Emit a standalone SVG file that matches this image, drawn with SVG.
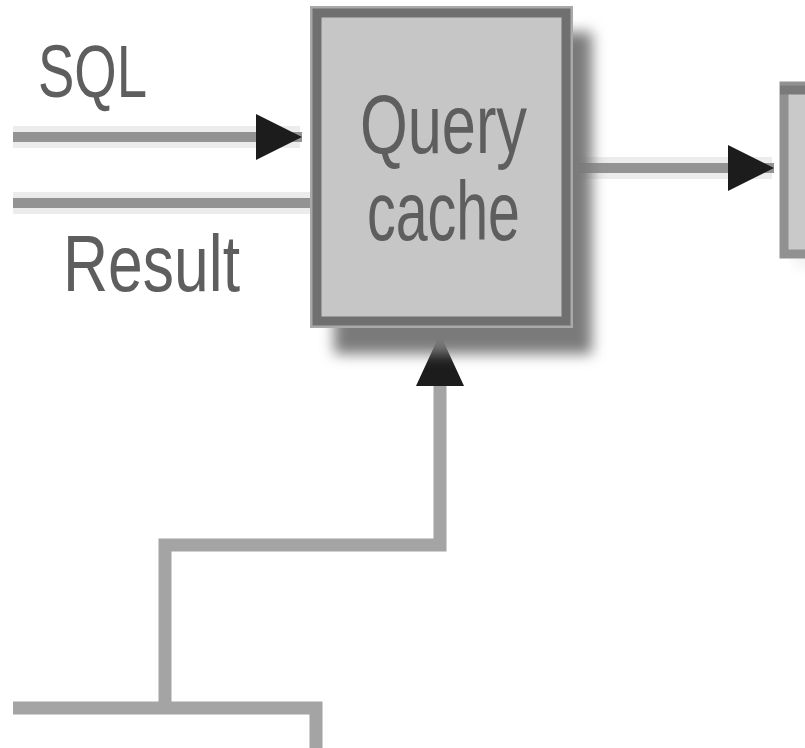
<svg xmlns="http://www.w3.org/2000/svg" width="805" height="748" viewBox="0 0 805 748">
  <defs>
    <style>
      .lbl { font-family: "Liberation Sans", Arial, sans-serif; fill: #5e5e5e; }
      .wire { fill: none; stroke: #a4a4a4; stroke-width: 13; stroke-linecap: butt; stroke-linejoin: miter; }
      .io { fill: none; stroke: #939393; stroke-width: 10; }
      .halo { fill: none; stroke: #ececec; stroke-width: 22; }
    </style>
    <filter id="soft" x="-20%" y="-20%" width="140%" height="140%">
      <feGaussianBlur stdDeviation="7"/>
    </filter>
    <marker id="head" markerUnits="userSpaceOnUse" viewBox="0 0 46 46" markerWidth="46" markerHeight="46" refX="46" refY="23" orient="auto">
      <path d="M0,0 L46,23 L0,46 Z" fill="#1c1c1c"/>
    </marker>
  </defs>

  <rect width="805" height="748" fill="#ffffff"/>

  <!-- connectors -->
  <g id="connectors">
    <path class="halo" d="M13,137 H300"/>
    <path class="io" d="M13,137 H302" marker-end="url(#head)"/>
    <path class="halo" d="M13,203 H312"/>
    <path class="io" d="M13,203 H313"/>
    <path class="halo" d="M570,168 H772"/>
    <path class="io" d="M570,168 H774" marker-end="url(#head)"/>
    <path class="wire" d="M13,708 H316 V748"/>
    <path class="wire" d="M165,708 V545 H440 V385"/>
    <path d="M440,334 L464,386 L416,386 Z" fill="#1c1c1c"/>
  </g>

  <!-- node: query cache -->
  <g id="query-cache">
    <rect x="334" y="32" width="258" height="322" fill="#7a7a7a" filter="url(#soft)"/>
    <rect x="310" y="6" width="263" height="322" fill="#a9a9a9"/>
    <rect x="317" y="13" width="249" height="308" fill="#c6c6c6" stroke="#707070" stroke-width="9"/>
    <text class="lbl" x="360" y="153" font-size="84" textLength="167" lengthAdjust="spacingAndGlyphs">Query</text>
    <text class="lbl" x="367" y="240" font-size="84" textLength="153" lengthAdjust="spacingAndGlyphs">cache</text>
  </g>

  <!-- node: next stage (cut at right edge) -->
  <g id="next-stage">
    <rect x="795" y="96" width="30" height="170" fill="#ededed" filter="url(#soft)"/>
    <rect x="784" y="86" width="40" height="168" fill="#c9c9c9" stroke="#919191" stroke-width="9"/>
    <path d="M780,90 H805" stroke="#7a7a7a" stroke-width="9"/>
  </g>

  <!-- labels -->
  <g id="labels">
    <text class="lbl" x="38" y="97" font-size="74" textLength="109" lengthAdjust="spacingAndGlyphs">SQL</text>
    <text class="lbl" x="63" y="291" font-size="80" textLength="177" lengthAdjust="spacingAndGlyphs">Result</text>
  </g>
</svg>
